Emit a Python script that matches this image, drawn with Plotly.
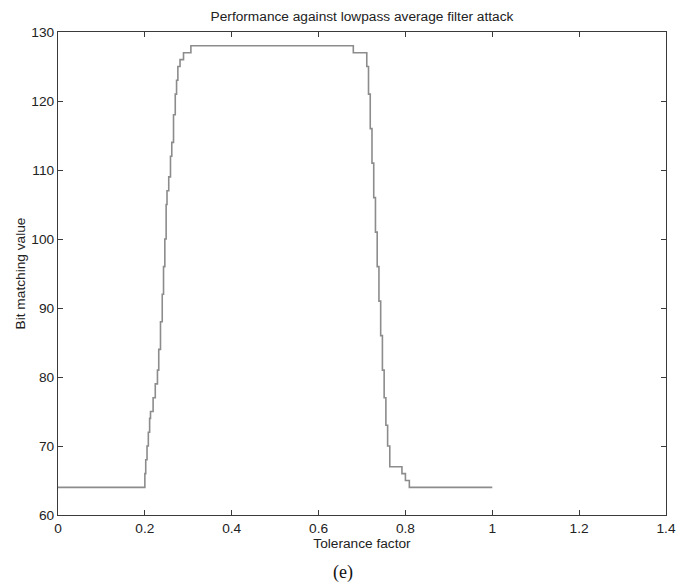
import plotly.graph_objects as go

# Step curve: value holds from each x until the next x
tolerance = [0.0, 0.200, 0.202, 0.205, 0.208, 0.211, 0.213, 0.219, 0.224, 0.229,
             0.232, 0.236, 0.240, 0.243, 0.246, 0.249, 0.251, 0.255, 0.259, 0.262,
             0.266, 0.270, 0.273, 0.276, 0.281, 0.289, 0.306, 0.680, 0.711, 0.715,
             0.719, 0.723, 0.727, 0.731, 0.735, 0.739, 0.743, 0.747, 0.751, 0.755,
             0.759, 0.764, 0.792, 0.800, 0.809, 1.0]
bit_match = [64, 66, 68, 70, 72, 74, 75, 77, 79, 81,
             84, 88, 92, 96, 100, 105, 107, 109, 112, 114,
             118, 121, 123, 125, 126, 127, 128, 127, 125, 121,
             116, 111, 106, 101, 96, 91, 86, 81, 77, 73,
             70, 67, 66, 65, 64, 64]

x_ticks = [0, 0.2, 0.4, 0.6, 0.8, 1, 1.2, 1.4]
x_tick_text = ["0", "0.2", "0.4", "0.6", "0.8", "1", "1.2", "1.4"]
y_ticks = [60, 70, 80, 90, 100, 110, 120, 130]

FONT = "Liberation Sans, Arial, sans-serif"
AXIS = "#3a3a3a"
TXT = "#222"
FS = 13.7

# the page body adds an 8px margin, so the figure is 8px smaller than the window
W, H = 678, 577

fig = go.Figure()
fig.add_trace(go.Scatter(
    x=tolerance, y=bit_match, mode="lines",
    line=dict(color="#8c8c8c", width=1.6, shape="hv"),
    showlegend=False,
))

axis_style = dict(
    showgrid=False, zeroline=False, showline=True, linecolor=AXIS, linewidth=1.3,
    mirror="ticks", ticks="inside", ticklen=5, tickcolor=AXIS, tickwidth=1,
    tickfont=dict(family=FONT, size=FS, color=TXT), automargin=False,
)

fig.update_xaxes(range=[0, 1.4], tickvals=x_ticks, ticktext=x_tick_text,
                 title=dict(text="Tolerance factor", font=dict(family=FONT, size=FS, color=TXT),
                            standoff=1),
                 **axis_style)
fig.update_yaxes(range=[60, 130], tickvals=y_ticks,
                 title=dict(text="Bit matching value", font=dict(family=FONT, size=FS, color=TXT),
                            standoff=2),
                 **axis_style)

fig.update_layout(
    width=W, height=H,
    margin=dict(l=50, r=20, t=24, b=70),
    paper_bgcolor="white", plot_bgcolor="white",
    title=dict(text="Performance against lowpass average filter attack",
               font=dict(family=FONT, size=FS, color=TXT),
               x=(50 + 658) / 2 / W, xanchor="center", y=1 - 8 / H, yanchor="middle"),
    annotations=[dict(text="(e)", xref="paper", yref="paper", x=(335 - 50) / 608,
                      y=-57 / 483, xanchor="center", yanchor="middle", showarrow=False,
                      font=dict(family="Liberation Serif, Times New Roman, serif", size=18, color="#111"))],
)

fig.write_html("out.html")
